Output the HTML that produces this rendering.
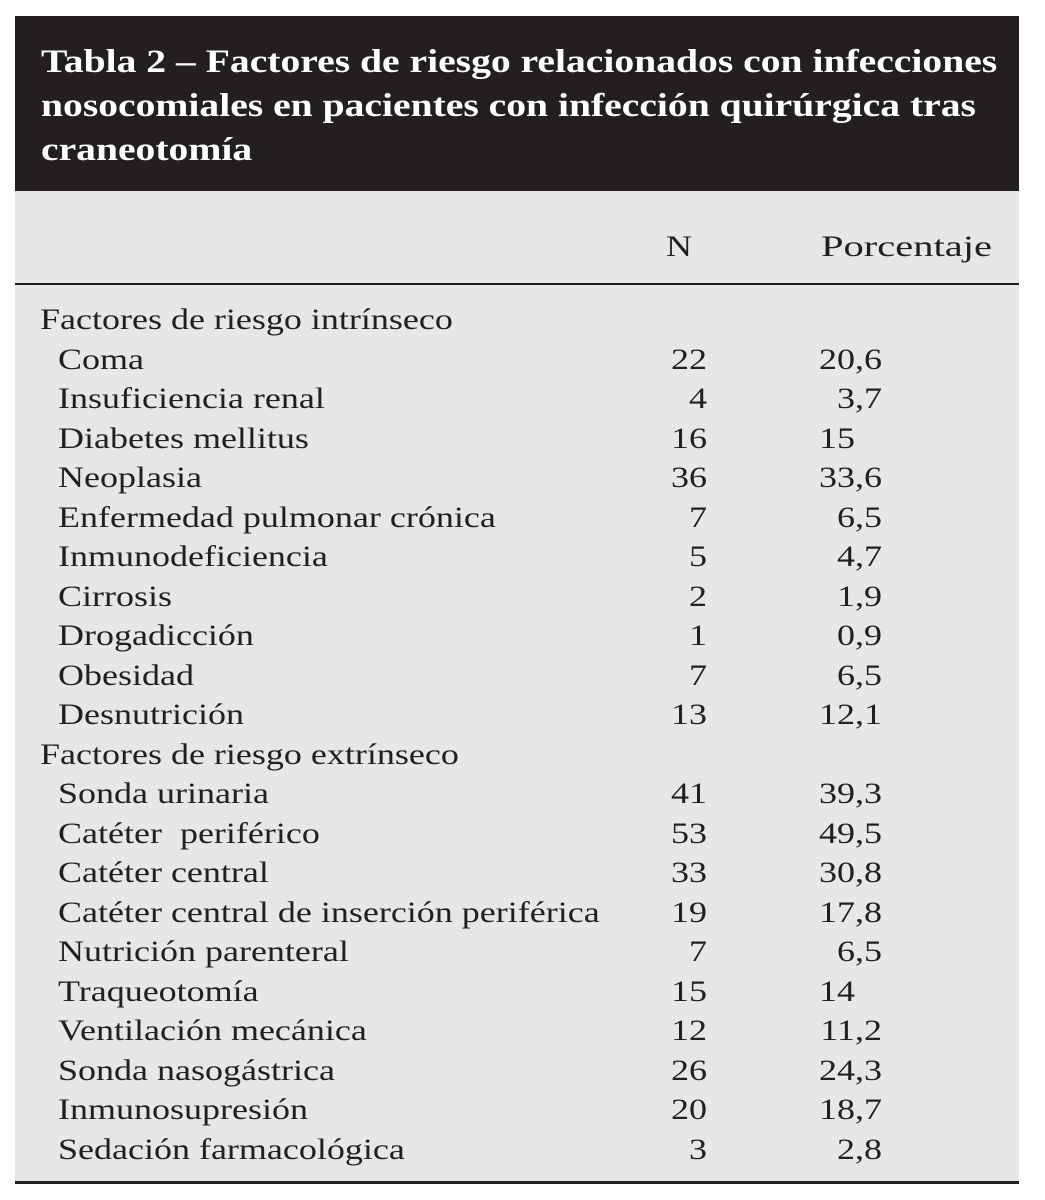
<!DOCTYPE html>
<html><head><meta charset="utf-8">
<style>
body{margin:0;width:1045px;height:1200px;background:#fff;position:relative;overflow:hidden;font-family:"Liberation Serif",serif;color:#231f20}
#title{position:absolute;left:15px;top:16px;width:1004px;height:175px;background:#231f20}
.tl{position:absolute;left:41px;color:#fff;font-weight:bold;font-size:33px;white-space:nowrap;transform-origin:0 50%;transform:scaleX(1.2)}
#body{position:absolute;left:15px;top:191px;width:1004px;height:991px;background:#e6e7e8}
#hline{position:absolute;left:15px;top:283px;width:1004px;height:2px;background:#231f20}
#bline{position:absolute;left:15px;top:1181px;width:1004px;height:3px;background:#231f20}
.t{position:absolute;font-size:30px;white-space:nowrap;line-height:32px;transform:scaleX(1.2)}
.l{transform-origin:0 50%}
.r{transform-origin:100% 50%}
</style></head><body>
<div id="title"></div>
<div class="tl" style="top:44px">Tabla 2 – Factores de riesgo relacionados con infecciones</div>
<div class="tl" style="top:88px">nosocomiales en pacientes con infección quirúrgica tras</div>
<div class="tl" style="top:132px">craneotomía</div>
<div id="body"></div>
<div id="hline"></div>
<div id="bline"></div>
<div class="t l" style="left:666px;top:231px">N</div>
<div class="t l" style="left:821px;top:231px;transform:scaleX(1.35)">Porcentaje</div>
<div id="rows"></div>
<script>
const labels=["Factores de riesgo intrínseco","Coma","Insuficiencia renal","Diabetes mellitus","Neoplasia","Enfermedad pulmonar crónica","Inmunodeficiencia","Cirrosis","Drogadicción","Obesidad","Desnutrición","Factores de riesgo extrínseco","Sonda urinaria","Catéter  periférico","Catéter central","Catéter central de inserción periférica","Nutrición parenteral","Traqueotomía","Ventilación mecánica","Sonda nasogástrica","Inmunosupresión","Sedación farmacológica"];
const nValues=["","22","4","16","36","7","5","2","1","7","13","","41","53","33","19","7","15","12","26","20","3"];
const pctValues=["","20,6","3,7","15","33,6","6,5","4,7","1,9","0,9","6,5","12,1","","39,3","49,5","30,8","17,8","6,5","14","11,2","24,3","18,7","2,8"];
const rows=document.getElementById('rows');
labels.forEach((lab,i)=>{
  const y=304+i*39.5;
  const isHead=nValues[i]==="";
  const l=document.createElement('div');l.className='t l';
  
  
  l.style.left=(isHead?40:58)+'px';l.style.top=y+'px';l.textContent=lab.replace(/  /g,'\u00a0 ');
  rows.appendChild(l);
  if(isHead)return;
  const n=document.createElement('div');n.className='t r';
  
  
  n.style.right=(1045-707)+'px';n.style.top=y+'px';n.textContent=nValues[i];
  rows.appendChild(n);
  const parts=pctValues[i].split(',');
  const a=document.createElement('div');a.className='t r';
  
  
  a.style.right=(1045-855)+'px';a.style.top=y+'px';a.textContent=parts[0];
  rows.appendChild(a);
  if(parts[1]){const b=document.createElement('div');b.className='t l';
    
    
    b.style.left='855px';b.style.top=y+'px';b.textContent=','+parts[1];rows.appendChild(b);}
});
</script>
</body></html>
